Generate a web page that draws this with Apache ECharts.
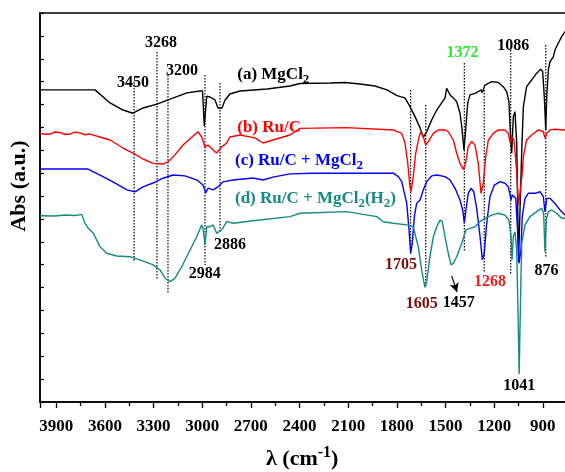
<!DOCTYPE html>
<html>
<head>
<meta charset="utf-8">
<script src="https://cdn.jsdelivr.net/npm/echarts@6/dist/echarts.min.js"></script>
<style>
  html, body { margin: 0; padding: 0; background: #fff; }
  #chart { width: 565px; height: 472px; }
</style>
</head>
<body>
<div id="chart"></div>
<script>
// wavenumber (cm-1), absorbance (a.u., offset stack)
var specA = [[4000,13.64],[3661,13.64],[3649,13.59],[3568,13.07],[3488,12.76],[3427,12.62],[3365,12.85],[3279,13.02],[3198,13.24],[3094,13.51],[3014,13.59],[2998,13.59],[2987,12.06],[2972,13.37],[2952,13.33],[2921,13.20],[2903,12.85],[2878,12.85],[2859,13.20],[2829,13.46],[2767,13.59],[2600,13.68],[2459,13.81],[2397,13.92],[2212,13.94],[2120,13.96],[2027,13.90],[1935,13.81],[1861,13.64],[1799,13.39],[1750,13.29],[1719,12.91],[1688,12.47],[1657,11.98],[1637,11.57],[1616,11.81],[1585,12.33],[1554,12.76],[1524,13.07],[1503,13.29],[1493,13.71],[1483,13.68],[1472,13.42],[1452,13.29],[1431,13.12],[1411,12.63],[1400,12.03],[1386,11.01],[1376,11.89],[1363,13.07],[1349,13.42],[1318,13.49],[1298,13.56],[1281,13.64],[1273,13.52],[1257,13.85],[1215,14.00],[1175,13.96],[1144,13.78],[1123,13.56],[1109,13.12],[1098,11.45],[1092,10.87],[1082,12.47],[1072,12.69],[1061,11.32],[1050,6.12],[1041,6.12],[1030,11.01],[1020,12.91],[1000,13.78],[969,14.07],[938,14.37],[913,14.54],[901,14.44],[891,13.34],[882,11.89],[876,13.34],[866,14.51],[856,14.87],[835,15.09],[825,15.38],[805,15.68],[784,15.97],[763,16.18],[702,16.48]];
var specB = [[4000,11.74],[3969,11.70],[3938,11.71],[3908,11.80],[3877,11.78],[3846,11.69],[3815,11.71],[3784,11.79],[3753,11.76],[3722,11.68],[3692,11.71],[3630,11.58],[3568,11.45],[3488,11.10],[3427,10.88],[3365,10.62],[3303,10.43],[3242,10.40],[3211,10.49],[3168,10.80],[3118,11.23],[3063,11.58],[3026,11.81],[3003,11.58],[2983,11.15],[2964,11.23],[2933,11.01],[2911,10.88],[2880,11.15],[2849,11.32],[2829,11.58],[2767,11.67],[2675,11.54],[2625,11.32],[2564,11.45],[2459,11.67],[2397,11.96],[2109,11.99],[1822,11.89],[1770,11.74],[1750,11.32],[1733,10.45],[1719,9.41],[1713,9.19],[1699,9.85],[1684,10.87],[1663,11.60],[1651,11.81],[1637,11.60],[1622,11.23],[1606,11.38],[1575,11.74],[1544,11.89],[1503,11.89],[1483,11.81],[1452,11.45],[1431,10.87],[1411,10.43],[1390,10.17],[1376,10.43],[1360,11.16],[1339,11.38],[1318,11.23],[1298,10.43],[1281,9.12],[1267,9.56],[1252,10.72],[1236,11.45],[1205,11.74],[1175,11.89],[1133,11.89],[1113,11.74],[1101,11.31],[1092,11.60],[1078,11.45],[1062,10.14],[1050,8.61],[1038,8.61],[1028,9.92],[1020,10.72],[1000,11.45],[969,11.67],[928,11.89],[897,11.81],[887,11.53],[876,11.74],[856,11.89],[825,11.92],[763,11.89],[702,11.89]];
var specC = [[4000,10.18],[3704,10.18],[3630,9.92],[3550,9.62],[3464,9.27],[3414,9.18],[3365,9.40],[3303,9.57],[3242,9.78],[3180,9.92],[3106,9.88],[3032,9.70],[2995,9.48],[2978,9.13],[2964,9.35],[2933,9.27],[2903,9.40],[2872,9.62],[2810,9.70],[2687,9.79],[2625,9.70],[2564,9.83],[2459,9.97],[2317,10.00],[1822,10.00],[1791,9.85],[1770,9.63],[1739,8.68],[1725,7.52],[1715,6.50],[1705,6.94],[1692,8.10],[1678,8.68],[1657,8.83],[1637,9.27],[1616,9.63],[1585,9.88],[1554,9.92],[1503,9.85],[1472,9.70],[1441,9.34],[1411,8.83],[1394,8.39],[1384,7.81],[1374,8.39],[1360,9.12],[1343,9.34],[1326,9.19],[1308,8.47],[1287,7.22],[1273,6.21],[1261,6.50],[1246,7.81],[1226,8.97],[1199,9.48],[1164,9.63],[1133,9.56],[1113,9.41],[1096,8.83],[1088,9.05],[1078,9.12],[1067,8.90],[1055,7.39],[1047,6.06],[1035,6.64],[1027,8.10],[1010,8.90],[990,9.12],[948,9.12],[917,9.19],[897,8.97],[887,8.32],[876,8.90],[856,8.90],[825,8.68],[794,8.39],[763,8.17],[702,7.87]];
var specD = [[4000,8.14],[3908,8.13],[3846,8.17],[3784,8.15],[3743,8.20],[3723,7.81],[3702,7.59],[3671,7.37],[3630,6.79],[3589,6.50],[3527,6.38],[3445,6.35],[3384,6.21],[3302,5.99],[3260,5.77],[3229,5.41],[3198,5.26],[3168,5.41],[3126,5.91],[3075,6.64],[3034,7.22],[3003,7.74],[2993,7.52],[2983,6.86],[2972,7.66],[2952,7.66],[2932,7.74],[2911,7.37],[2880,7.52],[2849,7.88],[2808,7.81],[2687,7.92],[2459,8.10],[2397,8.25],[2109,8.32],[1924,8.10],[1884,7.88],[1822,7.81],[1739,7.74],[1699,7.66],[1668,6.79],[1647,5.77],[1627,5.01],[1616,5.26],[1596,6.35],[1575,7.22],[1554,7.66],[1534,7.95],[1520,7.88],[1503,7.22],[1483,6.50],[1466,5.99],[1452,6.06],[1431,6.35],[1400,6.94],[1384,7.30],[1374,7.52],[1349,7.59],[1318,7.66],[1287,7.88],[1257,8.03],[1215,8.17],[1175,8.25],[1133,8.17],[1109,7.95],[1096,7.22],[1090,6.21],[1082,7.22],[1072,7.44],[1061,6.64],[1051,3.15],[1046,1.22],[1041,3.15],[1035,5.33],[1030,6.94],[1010,7.74],[979,8.10],[938,8.32],[907,8.47],[895,8.25],[887,6.57],[879,7.95],[866,8.32],[845,8.39],[815,8.25],[784,8.03],[763,8.03],[702,7.95]];

var seriesNames = ['(a) MgCl2', '(b) Ru/C', '(c) Ru/C + MgCl2', '(d) Ru/C + MgCl2(H2)'];
var seriesColors = ['#000000', '#ff0000', '#0000ff', '#148a84'];

// dotted guide lines: position, top, bottom
var dropX = [3420, 3279, 3211, 2983, 2890, 1715, 1622, 1384, 1261, 1098, 882];
var dropTop = [13.99, 15.30, 14.29, 14.29, 13.94, 13.64, 12.98, 14.82, 13.64, 15.38, 15.60];
var dropBottom = [6.16, 5.33, 4.76, 5.99, 7.39, 6.42, 4.98, 6.56, 5.68, 5.55, 6.29];

// peak labels
var peakText = ['3450', '3268', '3200', '2886', '2984', '1372', '1086', '1705', '1605', '1457', '1268', '876', '1041'];
var peakAt = [[3427,13.95],[3254,15.69],[3125,14.45],[2829,6.86],[2985,5.62],[1396,15.27],[1082,15.55],[1775,5.98],[1647,4.30],[1418,4.35],[1226,5.24],[878,5.75],[1045,0.70]];
var peakColor = ['#000', '#000', '#000', '#000', '#000', '#22ee22', '#000', '#7a0d0d', '#7a0d0d', '#000', '#ff1a1a', '#000', '#000'];

// sample labels (left aligned)
var tagAt = [[2784,14.29],[2784,11.98],[2798,10.53],[2798,8.87]];
var tagRich = ['(a) MgCl{s|2}', '(b) Ru/C', '(c) Ru/C + MgCl{s|2}', '(d) Ru/C + MgCl{s|2}(H{s|2})'];

var arrowFrom = [1462, 5.51];
var arrowTo = [1429, 4.81];

var serif = '"Liberation Serif", "Times New Roman", serif';

var chart = echarts.init(document.getElementById('chart'));

var series = [];
dropX.forEach(function(x, i) {
  series.push({
    type: 'line', silent: true, symbol: 'none', z: 1,
    data: [[x, dropTop[i]], [x, dropBottom[i]]],
    lineStyle: { color: '#000', width: 1.2, type: [1.5, 1.5] }
  });
});
[specA, specB, specC, specD].forEach(function(d, i) {
  series.push({
    name: seriesNames[i], type: 'line', symbol: 'none', z: 3 + i,
    data: d,
    lineStyle: { color: seriesColors[i], width: 1.4 }
  });
});

function richFor(color, size) {
  return {
    s: { fontFamily: serif, fontWeight: 'bold', fontSize: size - 4, color: color, padding: [10, 0, 0, 0] }
  };
}

series.push({
  type: 'scatter', symbolSize: 0, z: 10, silent: true,
  itemStyle: { opacity: 1 },
  data: peakAt.map(function(p, i) {
    return {
      value: p,
      label: {
        show: true, position: [0, 0], align: 'center', verticalAlign: 'middle', formatter: peakText[i],
        color: peakColor[i], fontFamily: serif, fontWeight: 'bold', fontSize: 16, textBorderWidth: 0, opacity: 1
      }
    };
  }).concat(tagAt.map(function(p, i) {
    return {
      value: p,
      label: {
        show: true, position: [0, 0], align: 'left', verticalAlign: 'middle', formatter: tagRich[i],
        color: seriesColors[i], fontFamily: serif, fontWeight: 'bold', fontSize: 17, textBorderWidth: 0, opacity: 1,
        rich: richFor(seriesColors[i], 17)
      }
    };
  })),
  markLine: {
    silent: true, symbol: ['none', 'arrow'], symbolSize: [7, 9],
    label: { show: false },
    lineStyle: { color: '#000', width: 1.2, type: 'solid', opacity: 1 },
    data: [[{ coord: arrowFrom }, { coord: arrowTo }]]
  }
});

chart.setOption({
  animation: false,
  backgroundColor: '#fff',
  grid: {
    left: 40, right: -26.5, top: 13, bottom: 70, outerBoundsMode: 'none', containLabel: false,
    show: true, borderColor: '#000', borderWidth: 1.5, backgroundColor: 'transparent'
  },
  xAxis: {
    type: 'value', inverse: true, min: 600, max: 4000, interval: 300,
    axisLine: { lineStyle: { color: '#000', width: 1.5 } },
    axisTick: { length: 6, lineStyle: { color: '#000', width: 1.3 } },
    minorTick: { show: true, splitNumber: 2, length: 4, lineStyle: { color: '#000', width: 1.3 } },
    axisLabel: {
      color: '#000', fontFamily: serif, fontWeight: 'bold', fontSize: 17, margin: 16,
      formatter: function(v) { return String(v); }
    },
    splitLine: { show: false }
  },
  yAxis: {
    type: 'value', min: 0, max: 17, interval: 1,
    axisLine: { show: true, lineStyle: { color: '#000', width: 1.5 } },
    axisTick: { show: true, inside: true, length: 4, lineStyle: { color: '#000', width: 1.2 } },
    axisLabel: { show: false },
    splitLine: { show: false }
  },
  graphic: [
    {
      type: 'text', left: 266, top: 445,
      style: {
        text: 'λ (cm{sup|-1})', fill: '#000',
        font: 'bold 22px ' + serif,
        rich: { sup: { fontFamily: serif, fontWeight: 'bold', fontSize: 16, padding: [0, 0, 12, 0] } }
      }
    },
    {
      type: 'text', x: 19, y: 186, rotation: Math.PI / 2,
      style: { text: 'Abs (a.u.)', fill: '#000', font: 'bold 22px ' + serif, align: 'center', verticalAlign: 'middle' }
    }
  ],
  series: series
});
window.addEventListener('resize', function() { chart.resize(); });
</script>
</body>
</html>
